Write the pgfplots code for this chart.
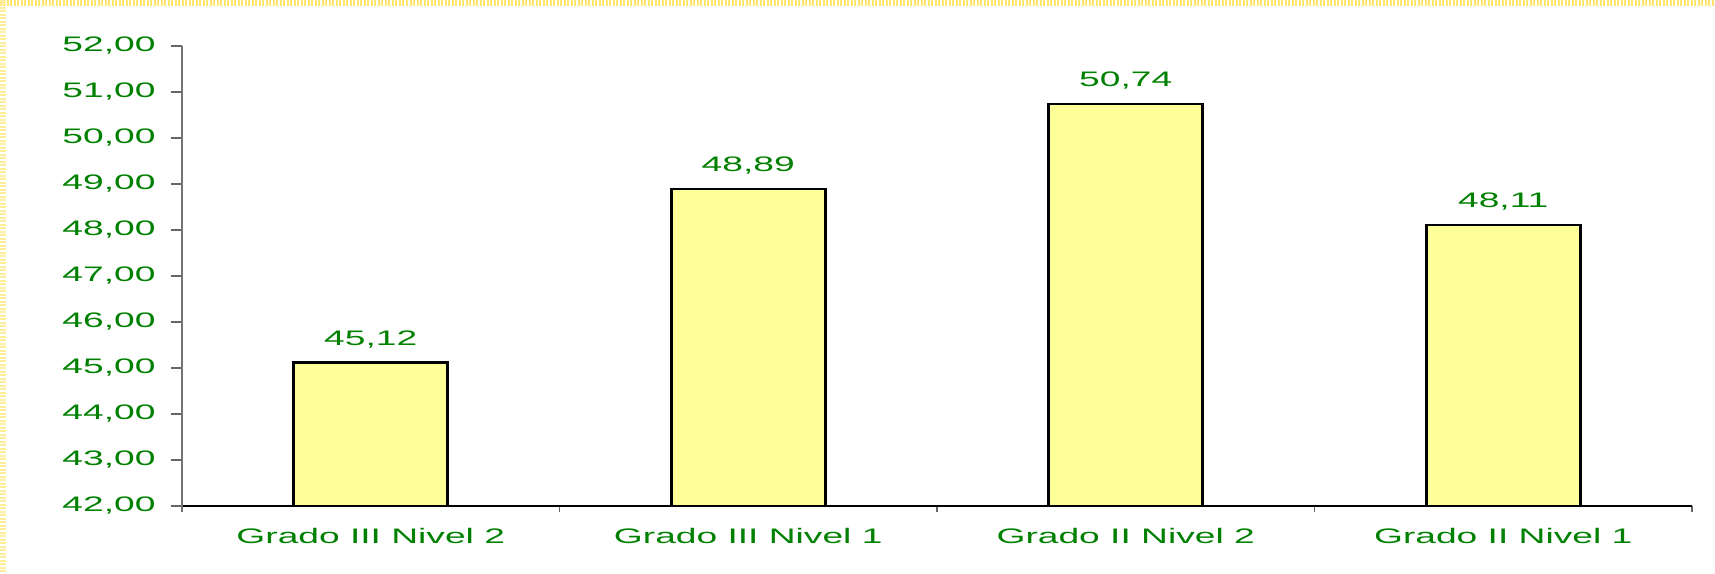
\documentclass[border=0pt]{standalone}
\usepackage{fontspec}
\setmainfont{Liberation Sans}[FakeStretch=1.77]
\usepackage{pgfplots}
\pgfplotsset{compat=1.18}
\definecolor{lblgreen}{RGB}{0,128,0}
\definecolor{barfill}{RGB}{255,255,153}
\definecolor{frameyellow}{RGB}{255,228,110}
\begin{document}
\begin{tikzpicture}
\useasboundingbox (-182bp,-68bp) rectangle (1533bp,506bp);
\draw[line width=6bp, frameyellow, dash pattern=on 2bp off 1.5bp] (-182bp,503bp) -- (1533bp,503bp);
\draw[line width=6bp, frameyellow!70, dash pattern=on 2bp off 1.5bp] (-179bp,506bp) -- (-179bp,-68bp);
\begin{axis}[
  at={(0,0)}, anchor=south west,
  scale only axis,
  width=1510bp, height=460bp,
  xmin=-0.5, xmax=3.5,
  ymin=42, ymax=52,
  ytick={42,43,...,52},
  xtick={0,1,2,3},
  xticklabels={Grado III Nivel 2, Grado III Nivel 1, Grado II Nivel 2, Grado II Nivel 1},
  minor xtick={-0.5,0.5,1.5,2.5,3.5},
  axis x line*=bottom, axis y line*=left,
  axis line style={-},
  x axis line style={black, line width=1.2bp},
  y axis line style={black!55, line width=1.6bp, shorten <=-5bp},
  tick align=outside,
  major tick length=11bp,
  minor tick length=6bp,
  xtick style={draw=none},
  minor x tick style={draw=black!60, line width=1.2bp},
  ytick style={black!60, line width=1.2bp},
  /pgf/number format/.cd, fixed, fixed zerofill, precision=2, use comma, assume math mode=true,
  /pgfplots/.cd,
  ticklabel style={font=\fontsize{21bp}{25bp}\selectfont, text=lblgreen},
  yticklabel style={xshift=-12bp},
  xticklabel style={font=\fontsize{21bp}{25bp}\selectfont, yshift=-8bp},
  ybar, bar width=154bp,
  nodes near coords,
  nodes near coords style={font=\fontsize{21bp}{25bp}\selectfont, text=lblgreen, anchor=south, yshift=10bp,
    /pgf/number format/.cd, fixed, fixed zerofill, precision=2, use comma, assume math mode=true},
  clip=false,
]
\addplot[fill=barfill, draw=black, line width=2.6bp] coordinates {(0,45.12) (1,48.89) (2,50.74) (3,48.11)};
\end{axis}
\end{tikzpicture}
\end{document}
